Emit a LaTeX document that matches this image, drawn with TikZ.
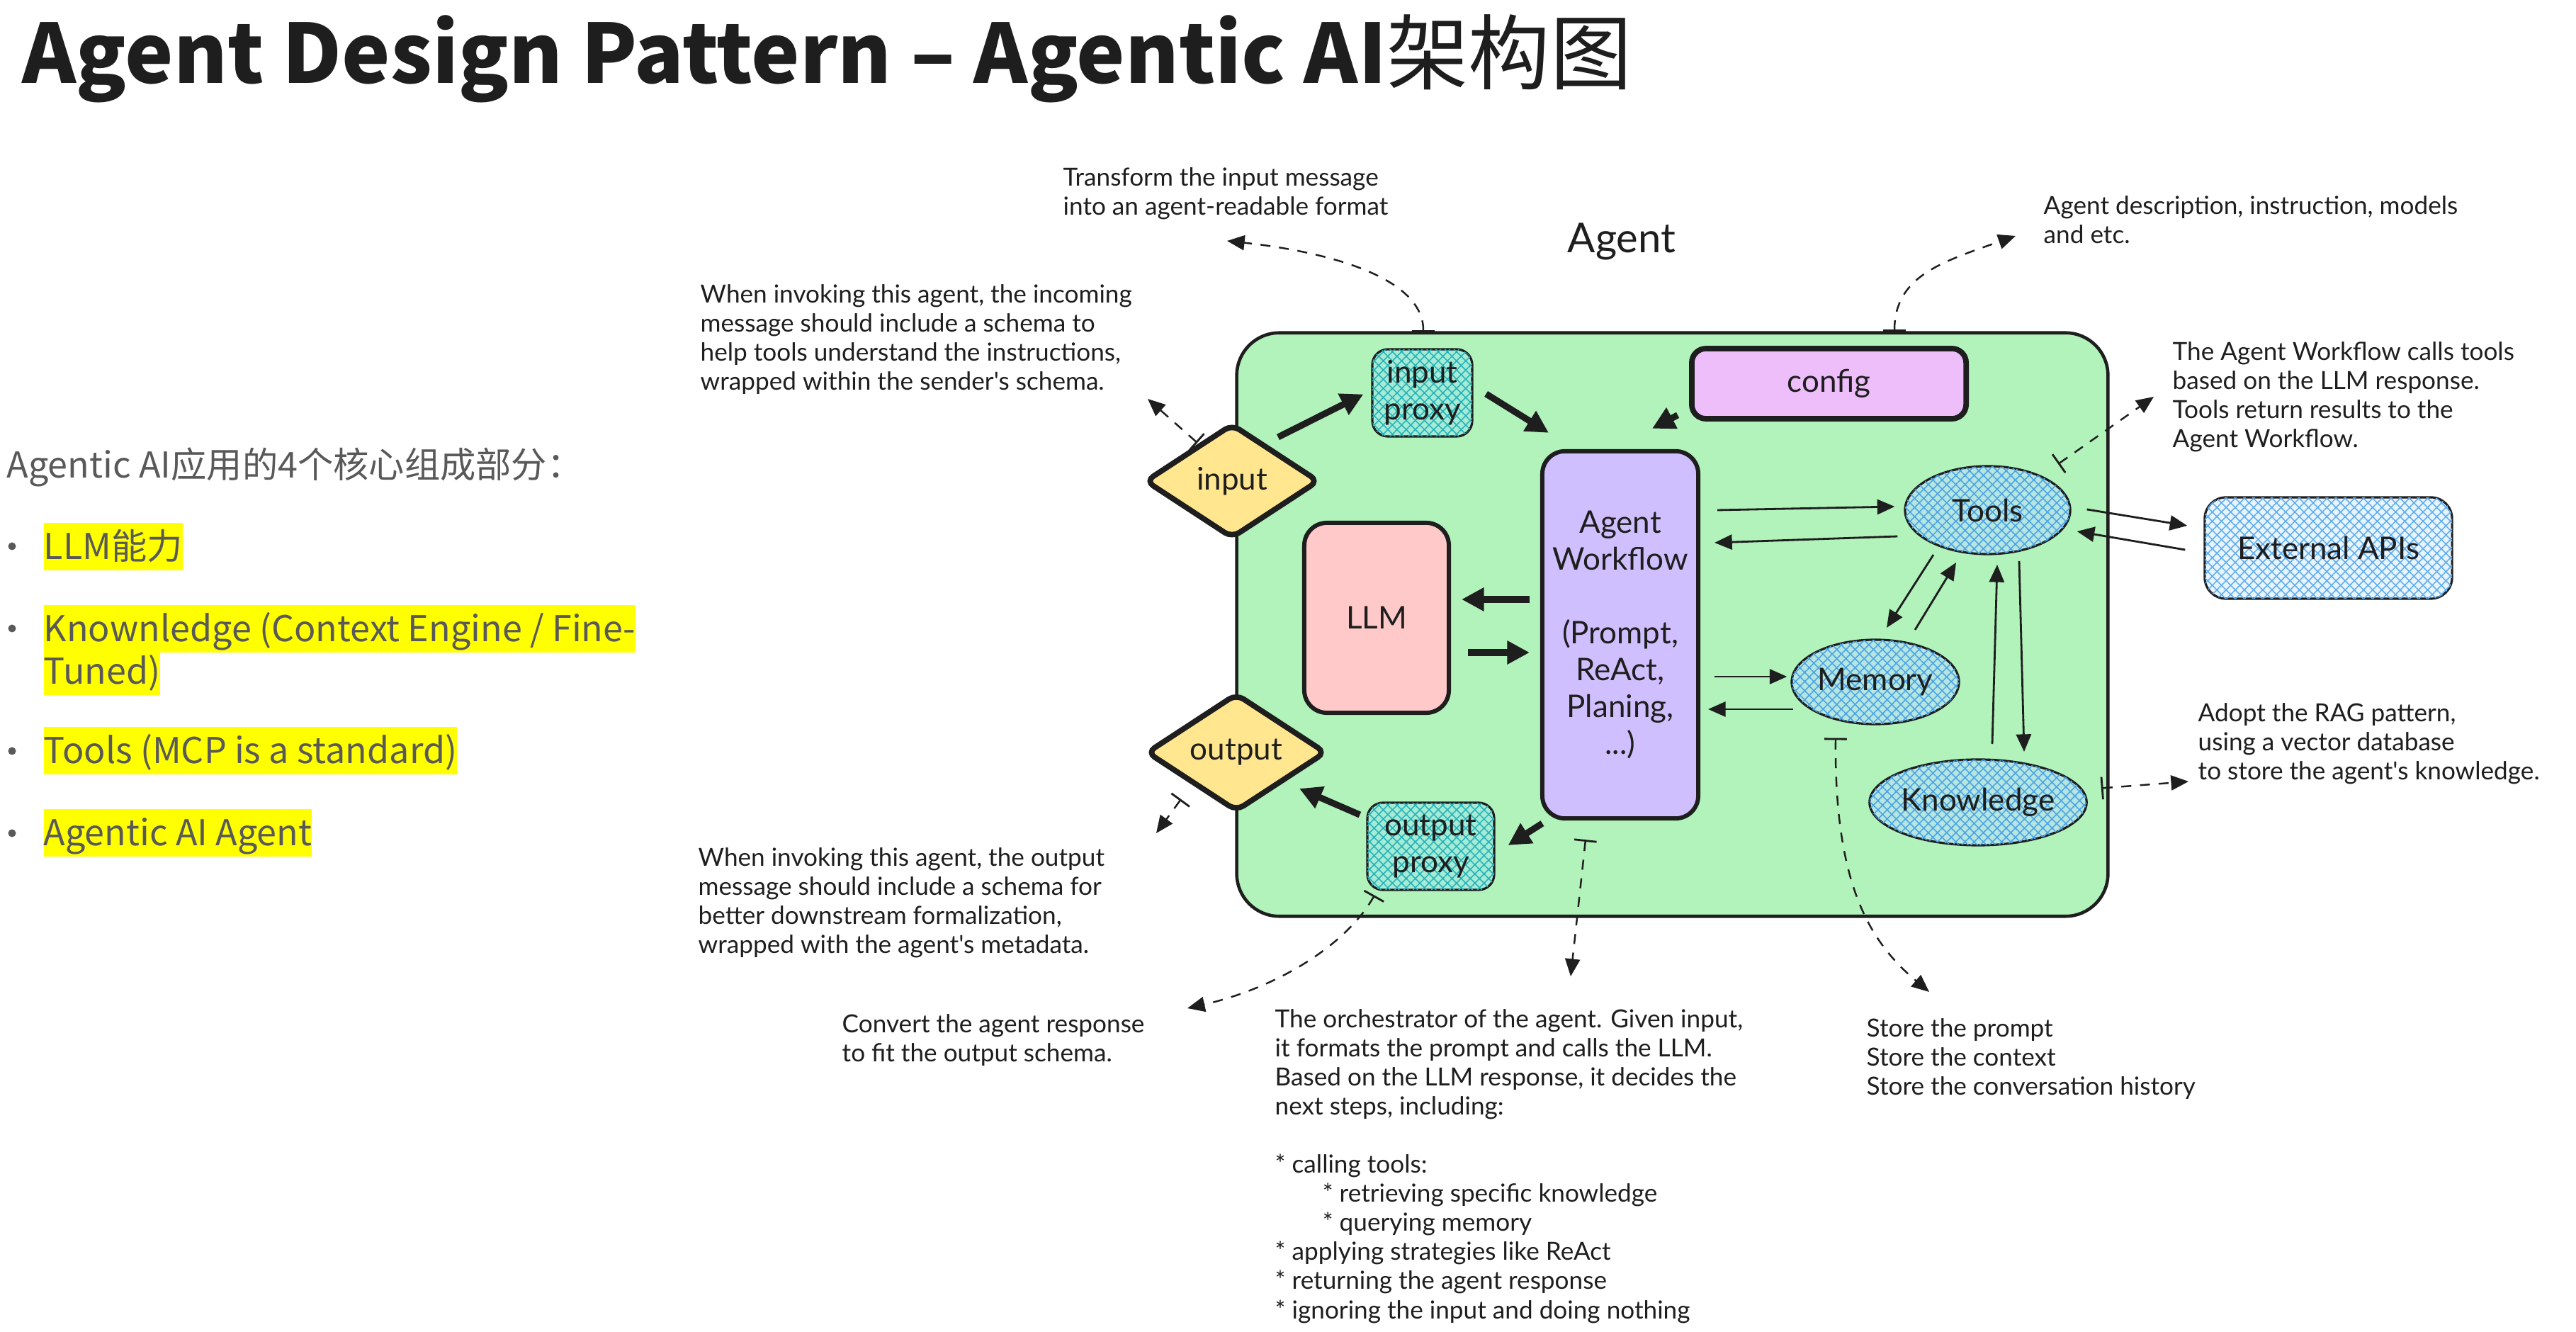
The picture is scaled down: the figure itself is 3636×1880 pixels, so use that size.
\documentclass[tikz,border=0pt]{standalone}
\usepackage{fontspec}
\setmainfont{Lato}
\newfontfamily\cjkfont{Noto Sans CJK SC}
\newfontfamily\handfont{Lato}
\usetikzlibrary{shapes.geometric,arrows.meta,patterns.meta,calc}

\definecolor{agentgreen}{HTML}{B2F2BB}
\definecolor{proxyfill}{HTML}{A6EBD6}
\definecolor{proxyhatch}{HTML}{26B3B8}
\definecolor{ellfill}{HTML}{B5E6DF}
\definecolor{ellhatch}{HTML}{4DA3E8}
\definecolor{apifill}{HTML}{E8F4FF}
\definecolor{apihatch}{HTML}{5FAEF0}
\definecolor{diamondfill}{HTML}{FFE68F}
\definecolor{llmfill}{HTML}{FFC9C9}
\definecolor{wffill}{HTML}{D0BFFF}
\definecolor{configfill}{HTML}{EEBEFA}
\definecolor{ink}{HTML}{1E1E1E}
\definecolor{listgray}{HTML}{595959}
\definecolor{hl}{HTML}{FFFF00}

\newcommand\lblfont{\handfont\fontsize{12.5}{14.8}\selectfont}
\newcommand\notefont{\handfont\fontsize{10}{11.67}\selectfont}
\newcommand\listfont{\cjkfont\fontsize{14.3}{17}\selectfont}

\begin{document}
\begin{tikzpicture}[x=0.01cm,y=-0.01cm,
  container/.style={draw=ink, line width=1.3pt, fill=agentgreen, rounded corners=0.6cm, inner sep=0},
  hatched/.style={postaction={pattern={Hatch[angle=45,distance=2.6pt,line width=0.45pt]},pattern color=#1}},
  box/.style={draw=ink, rounded corners=0.22cm, inner sep=0, font=\lblfont, align=center, text=ink},
  diam/.style={shape=diamond, draw=ink, line width=2.2pt, fill=diamondfill, inner sep=0, rounded corners=0.12cm, font=\lblfont, text=ink},
  ell/.style={shape=ellipse, draw=ink, line width=0.9pt, fill=ellfill, hatched=ellhatch, inner sep=0, font=\lblfont, text=ink},
  note/.style={font=\notefont, align=left, inner sep=0, anchor=north west, text=ink},
  hlitem/.style={anchor=base west, fill=hl, inner xsep=0, inner ysep=0, text height=0.52cm, text depth=0.15cm, font=\listfont, text=listgray},
  bullet/.style={circle, fill=listgray, inner sep=0, minimum size=0.11cm},
  thickarr/.style={draw=ink, line width=2.6pt, -{Triangle[length=9pt,width=9pt]}},
  thinarr/.style={draw=ink, line width=0.8pt, -{Triangle[length=7pt,width=6pt]}},
  notearr/.style={draw=ink, line width=0.7pt, dash pattern=on 4pt off 3.5pt, {Bar[width=9pt,line width=0.8pt]}-{Triangle[length=7pt,width=6pt]}}
]
\useasboundingbox (0,0) rectangle (3636,1880);
\fill[white] (0,0) rectangle (3636,1880);

% Title
\node[anchor=base west, inner sep=0, text=ink, font=\cjkfont\fontsize{32.8}{38}\selectfont] (title) at (31,118) {{\bfseries Agent Design Pattern – Agentic AI}架构图};

% Left list
\node[anchor=base west, inner sep=0, font=\listfont, text=listgray] (head) at (9,675) {Agentic AI应用的4个核心组成部分：};
\node[bullet] (b1) at (17,771) {};
\node[bullet] (b2) at (17,887) {};
\node[bullet] (b3) at (17,1060) {};
\node[bullet] (b4) at (17,1176) {};
\node[hlitem] (i1) at (61,790) {LLM能力};
\node[hlitem] (i2) at (61,906) {Knownledge (Context Engine / Fine-};
\node[hlitem] (i2b) at (61,966) {Tuned)};
\node[hlitem] (i3) at (61,1078) {Tools (MCP is a standard)};
\node[hlitem] (i4) at (61,1194) {Agentic AI Agent};

% Container
\node[container, minimum width=12.29cm, minimum height=8.23cm] (agentbox) at (2360.5,881.5) {};
\node[font=\handfont\fontsize{16.5}{18}\selectfont, anchor=base, inner sep=0, text=ink] (agentlbl) at (2289,357) {Agent};

% Components
\node[box, line width=0.9pt, fill=proxyfill, hatched=proxyhatch, minimum width=1.41cm, minimum height=1.23cm] (inproxy) at (2007.5,554.5) {input\\proxy};
\node[box, line width=2.2pt, fill=configfill, minimum width=3.87cm, minimum height=0.99cm, rounded corners=0.2cm] (config) at (2581.5,541.5) {config};
\node[diam, minimum width=2.46cm, minimum height=1.62cm] (input) at (1739,679) {input};
\node[diam, minimum width=2.54cm, minimum height=1.6cm] (output) at (1745,1062) {output};
\node[box, line width=1.7pt, fill=llmfill, minimum width=2.04cm, minimum height=2.68cm, rounded corners=0.32cm] (llm) at (1943,872) {LLM};
\node[box, line width=1.7pt, fill=wffill, minimum width=2.2cm, minimum height=5.18cm, rounded corners=0.32cm] (wf) at (2287,896) {Agent\\Workflow\\[14.8pt](Prompt,\\ReAct,\\Planing,\\...)};
\node[ell, minimum width=2.33cm, minimum height=1.24cm] (tools) at (2805.5,720) {Tools};
\node[ell, minimum width=2.36cm, minimum height=1.19cm] (memory) at (2647,962.5) {Memory};
\node[ell, minimum width=3.04cm, minimum height=1.21cm] (knowledge) at (2792,1132.5) {Knowledge};
\node[box, line width=0.9pt, fill=proxyfill, hatched=proxyhatch, minimum width=1.79cm, minimum height=1.23cm] (outproxy) at (2019.5,1194.5) {output\\proxy};
\node[box, line width=0.9pt, fill=apifill, hatched=apihatch, minimum width=3.49cm, minimum height=1.43cm, rounded corners=0.3cm] (extapi) at (3286.5,773.5) {External APIs};

% Solid arrows
\draw[thickarr] ($(input.center)+(65,-62)$) -- ($(inproxy.west)+(-11,2)$);
\draw[thickarr] ($(inproxy.east)+(18,1.5)$) -- ($(wf.north west)+(12,-23)$);
\draw[thickarr] ($(config.south west)+(-16,-9)$) -- ($(wf.north)+(45,-29)$);
\draw[thickarr] ($(wf.west)+(-15,-50)$) -- ($(llm.east)+(15,-26)$);
\draw[thickarr] ($(llm.east)+(24,49)$) -- ($(wf.west)+(-15,25)$);
\draw[thickarr] ($(wf.south west)+(3,4)$) -- ($(outproxy.east)+(18,-1.5)$);
\draw[thickarr] ($(outproxy.west)+(-9,-44.5)$) -- ($(output.center)+(89,51)$);
\draw[thinarr] ($(wf.east)+(24,-176)$) -- ($(tools.west)+(-13,-5)$);
\draw[thinarr] ($(tools.west)+(-9,37)$) -- ($(wf.east)+(20,-130)$);
\draw[thinarr] ($(wf.east)+(20,59)$) -- ($(memory.west)+(-5,-7.5)$);
\draw[thinarr] ($(memory.west)+(4,38.5)$) -- ($(wf.east)+(11,105)$);
\draw[thinarr] ($(tools.center)+(-76.5,63)$) -- ($(memory.center)+(16,-76.5)$);
\draw[thinarr] ($(memory.center)+(56,-73.5)$) -- ($(tools.center)+(-44.5,74)$);
\draw[thinarr] ($(knowledge.center)+(20,-82.5)$) -- ($(tools.center)+(13.5,77)$);
\draw[thinarr] ($(tools.center)+(44.5,72)$) -- ($(knowledge.center)+(65,-71.5)$);
\draw[thinarr] ($(tools.east)+(22,-1)$) -- ($(extapi.west)+(-23,-31.5)$);
\draw[thinarr] ($(extapi.west)+(-26,2.5)$) -- ($(tools.east)+(8,30)$);

% Annotation texts
\node[note] (t1) at (1500,236) {Transform the input message\\into an agent-readable format};
\node[note] (t2) at (988,401) {When invoking this agent, the incoming\\message should include a schema to\\help tools understand the instructions,\\wrapped within the sender's schema.};
\node[note] (t3) at (2884,276) {Agent description, instruction, models\\and etc.};
\node[note] (t4) at (3066,482) {The Agent Workflow calls tools\\based on the LLM response.\\Tools return results to the\\Agent Workflow.};
\node[note] (t5) at (3102,992) {Adopt the RAG pattern,\\using a vector database\\to store the agent's knowledge.};
\node[note] (t6) at (985,1196) {When invoking this agent, the output\\message should include a schema for\\better downstream formalization,\\wrapped with the agent's metadata.};
\node[note] (t7) at (1188,1431) {Convert the agent response\\to fit the output schema.};
\node[note] (t8) at (1799,1424) {The orchestrator of the agent. Given input,\\it formats the prompt and calls the LLM.\\Based on the LLM response, it decides the\\next steps, including:\\[11.67pt]* calling tools:\\\hspace*{0.67cm}* retrieving specific knowledge\\\hspace*{0.67cm}* querying memory\\* applying strategies like ReAct\\* returning the agent response\\* ignoring the input and doing nothing};
\node[note] (t9) at (2634,1437) {Store the prompt\\Store the context\\Store the conversation history};

% Dashed annotation arrows
\coordinate (n1end) at (1732,340);
\coordinate (n2end) at (1620,563);
\coordinate (n3end) at (2845,333);
\coordinate (n4end) at (3040,560);
\coordinate (n5end) at (3089,1103);
\coordinate (n6end) at (2723,1400);
\coordinate (n7end) at (2217,1378);
\coordinate (n8end) at (1676,1423);
\coordinate (n9end) at (1632,1176);
\draw[notearr] ($(inproxy.north)+(1.5,-23)$) .. controls (2009,390) and (1870,355) .. (n1end);
\draw[notearr] ($(input.center)+(-49,-54)$) -- (n2end);
\draw[notearr] ($(config.north)+(92.5,-20)$) .. controls (2674,390) and (2740,370) .. (n3end);
\draw[notearr] ($(tools.center)+(99.5,-65)$) -- (n4end);
\draw[notearr] ($(knowledge.east)+(19,-20)$) -- (n5end);
\draw[notearr] ($(memory.south)+(-56,18)$) .. controls (2589,1250) and (2640,1330) .. (n6end);
\draw[notearr] ($(wf.south)+(-49,27)$) -- (n7end);
\draw[notearr] ($(outproxy.south)+(-79.5,6)$) .. controls (1900,1335) and (1800,1395) .. (n8end);
\draw[notearr] ($(output.center)+(-78,66)$) -- (n9end);
\end{tikzpicture}
\end{document}
